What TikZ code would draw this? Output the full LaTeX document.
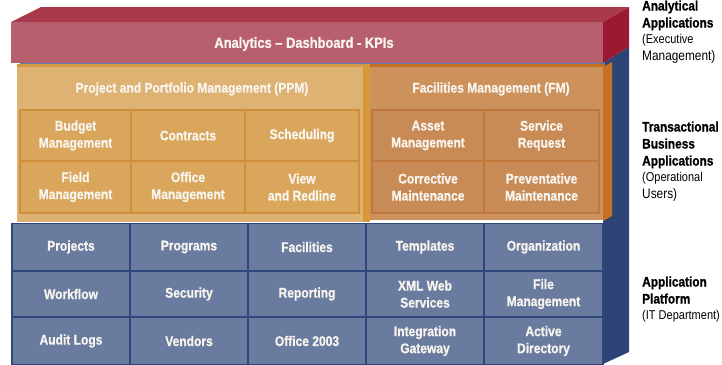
\documentclass[tikz,border=0pt]{standalone}
\usepackage{fontspec}
\setmainfont{Liberation Sans}[FakeStretch=0.86, BoldFeatures={FakeBold=0.8}]
\definecolor{redfront}{HTML}{B75F6D}
\definecolor{redtop}{HTML}{A83A4C}
\definecolor{redside}{HTML}{9A1B31}
\definecolor{blueside}{HTML}{2C4476}
\definecolor{bluestrip}{HTML}{5B7BB0}
\definecolor{ppmface}{HTML}{DEB272}
\definecolor{ppmtop}{HTML}{D69A45}
\definecolor{ppmcell}{HTML}{DAA65C}
\definecolor{ppmline}{HTML}{CF8F3A}
\definecolor{ppmside}{HTML}{D8983A}
\definecolor{fmface}{HTML}{CD925B}
\definecolor{fmcell}{HTML}{C98B55}
\definecolor{fmline}{HTML}{BE783C}
\definecolor{fmside}{HTML}{C46F22}
\definecolor{bluecell}{HTML}{6A7BA0}
\definecolor{blueline}{HTML}{2E487E}
\definecolor{txt}{HTML}{F8F4EE}
\tikzset{
  celltext/.style={text=txt, align=center, inner sep=0pt,
    font=\fontsize{14}{17}\selectfont\bfseries},
  ppmcellbox/.style={celltext, fill=ppmcell, draw=ppmline, line width=1.4pt},
  fmcellbox/.style={celltext, fill=fmcell, draw=fmline, line width=1.4pt},
  bluecellbox/.style={celltext, fill=bluecell, draw=blueline, line width=1.4pt},
  title/.style={text=txt, inner sep=0pt, font=\fontsize{14}{17}\selectfont\bfseries},
  lbl/.style={align=left, inner sep=0pt, text=black, font=\fontsize{13.8}{17}\selectfont},
}
\begin{document}
\begin{tikzpicture}[x=1pt,y=-1pt]
\useasboundingbox (0,0) rectangle (722,364);
% blue platform back / side
\fill[blueside] (603,63) -- (629,47) -- (629,352) -- (603,364) -- cycle;
\fill[bluestrip] (20,62) rectangle (605,67);
% red analytics box
\fill[redtop] (11,22) -- (41,7) -- (629,7) -- (603,22) -- cycle;
\fill[redside] (603,22) -- (629,7) -- (629,47) -- (603,63) -- cycle;
\node[fill=redfront, minimum width=592pt, minimum height=41pt, inner sep=0pt,
      anchor=north west] (red) at (11,22) {};
\node[title, font=\fontsize{15}{18}\selectfont\bfseries] (redt) at (304,44) {Analytics -- Dashboard - KPIs};
% PPM box
\fill[ppmtop] (17,64) rectangle (370,67);
\node[fill=ppmface, minimum width=346pt, minimum height=155pt, inner sep=0pt,
      anchor=north west] (ppm) at (17,67) {};
\fill[ppmside] (363,67) rectangle (370,222);
\node[title] (ppmt) at (192,89) {Project and Portfolio Management (PPM)};
% FM box
\fill[fmside] (370,64) rectangle (605,67);
\fill[fmside] (603,67) -- (612,62) -- (612,216) -- (603,221) -- cycle;
\node[fill=fmface, minimum width=233pt, minimum height=153pt, inner sep=0pt,
      anchor=north west] (fm) at (370,67) {};
\node[title] (fmt) at (491,89) {Facilities Management (FM)};
% PPM cells
\node[ppmcellbox, minimum width=111pt, minimum height=51pt] (c11) at (75.5,135.5) {Budget\\Management};
\node[ppmcellbox, minimum width=114pt, minimum height=51pt] (c12) at (188,135.5) {Contracts};
\node[ppmcellbox, minimum width=114pt, minimum height=51pt] (c13) at (302,135.5) {Scheduling};
\node[ppmcellbox, minimum width=111pt, minimum height=52pt] (c21) at (75.5,187) {Field\\Management};
\node[ppmcellbox, minimum width=114pt, minimum height=52pt] (c22) at (188,187) {Office\\Management};
\node[ppmcellbox, minimum width=114pt, minimum height=52pt] (c23) at (302,187) {View\\and Redline};
% FM cells
\node[fmcellbox, minimum width=112pt, minimum height=51pt] (f11) at (428,135.5) {Asset\\Management};
\node[fmcellbox, minimum width=115pt, minimum height=51pt] (f12) at (541.5,135.5) {Service\\Request};
\node[fmcellbox, minimum width=112pt, minimum height=52pt] (f21) at (428,187) {Corrective\\Maintenance};
\node[fmcellbox, minimum width=115pt, minimum height=52pt] (f22) at (541.5,187) {Preventative\\Maintenance};
% Platform cells
\fill[bluecell] (12,223) rectangle (603,364);
\node[bluecellbox, minimum width=118pt, minimum height=47pt] (p11) at (71,247) {Projects};
\node[bluecellbox, minimum width=118pt, minimum height=47pt] (p12) at (189,247) {Programs};
\node[bluecellbox, minimum width=118pt, minimum height=47pt] (p13) at (307,247) {Facilities};
\node[bluecellbox, minimum width=118pt, minimum height=47pt] (p14) at (425,247) {Templates};
\node[bluecellbox, minimum width=119pt, minimum height=47pt] (p15) at (543.5,247) {Organization};
\node[bluecellbox, minimum width=118pt, minimum height=46pt] (p21) at (71,294) {Workflow};
\node[bluecellbox, minimum width=118pt, minimum height=46pt] (p22) at (189,294) {Security};
\node[bluecellbox, minimum width=118pt, minimum height=46pt] (p23) at (307,294) {Reporting};
\node[bluecellbox, minimum width=118pt, minimum height=46pt] (p24) at (425,294) {XML Web\\Services};
\node[bluecellbox, minimum width=119pt, minimum height=46pt] (p25) at (543.5,294) {File\\Management};
\node[bluecellbox, minimum width=118pt, minimum height=48pt] (p31) at (71,341) {Audit Logs};
\node[bluecellbox, minimum width=118pt, minimum height=48pt] (p32) at (189,341) {Vendors};
\node[bluecellbox, minimum width=118pt, minimum height=48pt] (p33) at (307,341) {Office 2003};
\node[bluecellbox, minimum width=118pt, minimum height=48pt] (p34) at (425,341) {Integration\\Gateway};
\node[bluecellbox, minimum width=119pt, minimum height=48pt] (p35) at (543.5,341) {Active\\Directory};
% right-hand labels
\node[lbl, anchor=base west] (l1) at (642,60) {\bfseries Analytical\\\bfseries Applications\\[-1.5pt]\fontsize{12.8}{15.5}\selectfont(Executive\\Management)};
\node[lbl, anchor=base west] (l2) at (642,198) {\bfseries Transactional\\\bfseries Business\\\bfseries Applications\\[-1.5pt]\fontsize{12.8}{15.5}\selectfont(Operational\\Users)};
\node[lbl, anchor=base west] (l3) at (642,319) {\bfseries Application\\\bfseries Platform\\[-1.5pt]\fontsize{12.8}{15.5}\selectfont(IT Department)};
\end{tikzpicture}
\end{document}
